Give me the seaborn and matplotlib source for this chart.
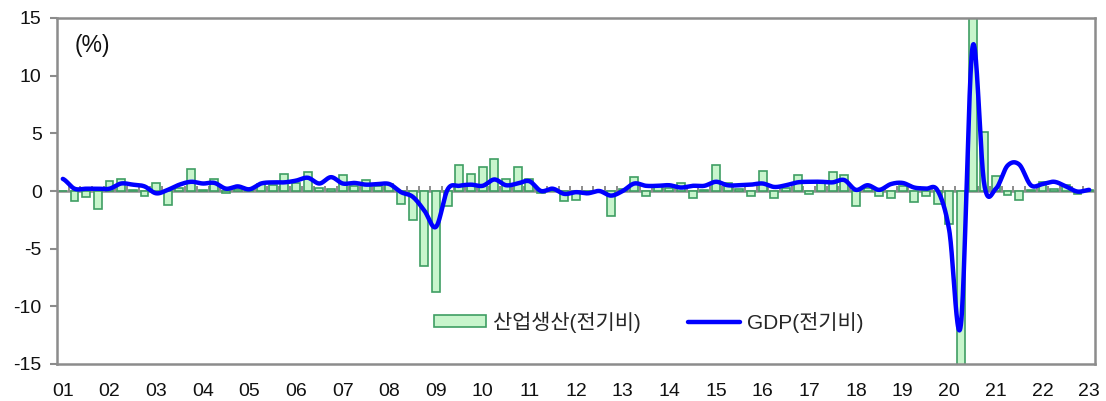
import numpy as np
import pandas as pd
import matplotlib
matplotlib.use("Agg")
import matplotlib.pyplot as plt
from matplotlib.patches import Patch
from matplotlib.lines import Line2D
import seaborn as sns

# ---- data (quarterly, 2001Q1 - 2023Q1, % q/q) ----
years = [f"{y:02d}" for y in range(1, 24)]
quarters = [f"{y}Q{q}" for y in range(2001, 2024) for q in range(1, 5)][:89]

ip_qoq = [0.0, -0.9, -0.55, -1.6, 0.85, 1.0, 0.1, -0.4, 0.7, -1.25,
          0.3, 1.9, 0.1, 1.0, -0.2, 0.2, 0.2, 0.65, 0.5, 1.5,
          0.7, 1.65, 0.25, 0.2, 1.35, 0.45, 0.95, 0.4, 0.65, -1.1,
          -2.5, -6.5, -8.8, -1.3, 2.25, 1.5, 2.1, 2.75, 1.0, 2.1,
          1.0, -0.2, 0.1, -0.9, -0.75, -0.05, 0.0, -2.15, 0.15, 1.2,
          -0.4, 0.5, 0.3, 0.7, -0.6, 0.05, 2.25, 0.7, 0.15, -0.4,
          1.7, -0.6, 0.3, 1.35, -0.25, 0.85, 1.65, 1.35, -1.3, 0.3,
          -0.4, -0.6, 0.45, -0.95, -0.4, -1.1, -2.9, -16.5, 15.5, 5.15,
          1.3, -0.35, -0.8, 0.1, 0.8, 0.15, 0.5, -0.25, 0.1]

gdp_qoq = [1.05, 0.2, 0.2, 0.2, 0.2, 0.65, 0.55, 0.4, -0.2, 0.1,
           0.55, 0.8, 0.65, 0.7, 0.2, 0.4, 0.15, 0.65, 0.75, 0.75,
           0.9, 1.15, 0.65, 1.2, 0.65, 0.7, 0.55, 0.6, 0.6, -0.1,
           -0.5, -1.7, -3.1, 0.15, 0.45, 0.55, 0.45, 1.0, 0.5, 0.65,
           0.85, 0.0, 0.2, -0.25, -0.1, -0.2, 0.0, -0.4, 0.0, 0.65,
           0.45, 0.45, 0.5, 0.3, 0.45, 0.45, 0.8, 0.5, 0.5, 0.55,
           0.65, 0.35, 0.5, 0.75, 0.8, 0.8, 0.75, 0.95, 0.1, 0.5,
           0.1, 0.6, 0.7, 0.3, 0.2, 0.05, -3.4, -11.6, 12.5, 0.6,
           0.2, 2.2, 2.3, 0.5, 0.6, 0.8, 0.4, -0.05, 0.1]

yticks = [-15, -10, -5, 0, 5, 10, 15]

label_ip = "산업생산(전기비)"
label_gdp = "GDP(전기비)"

# ---- style ----
sns.set_theme(style="white")
plt.rcParams["font.family"] = ["Liberation Sans", "Noto Sans CJK KR", "DejaVu Sans"]
plt.rcParams["axes.unicode_minus"] = False

BAR_FACE = "#c8f5cc"
BAR_EDGE = "#3f9e63"
LINE_COL = "#0000ff"
GRAY = "#8c8c8c"

fig = plt.figure(figsize=(11.06, 4.01), dpi=100)
ax = fig.add_axes([57 / 1106, 1 - 364 / 401, (1095 - 57) / 1106, (364 - 18) / 401])

n = len(quarters)
df = pd.DataFrame({"q": quarters, "idx": np.arange(n), "ip": ip_qoq, "gdp": gdp_qoq})

# zero line with quarter separators
ax.axhline(0, color=GRAY, lw=1.8, zorder=1)
bounds = np.arange(n + 1) - 0.5
ax.vlines(bounds[1:-1], 0, 0.42, color=GRAY, lw=1.4, zorder=1)

sns.barplot(data=df, x="idx", y="ip", order=list(range(n)), native_scale=True,
            color=BAR_FACE, edgecolor=BAR_EDGE, linewidth=1.2, width=0.68,
            saturation=1, ax=ax, zorder=2)
for p in ax.patches:
    p.set_facecolor(BAR_FACE)
    p.set_edgecolor(BAR_EDGE)


# smoothed (Excel-like) line through the GDP points
def smooth(xv, yv, k=24):
    xv = np.asarray(xv, float)
    yv = np.asarray(yv, float)
    N = len(yv)
    xs, ys = [], []
    t = np.linspace(0, 1, k, endpoint=False)
    for i in range(N - 1):
        y0 = yv[max(i - 1, 0)]
        y1, y2 = yv[i], yv[i + 1]
        y3 = yv[min(i + 2, N - 1)]
        c1 = y1 + (y2 - y0) / 6
        c2 = y2 - (y3 - y1) / 6
        b = (1 - t) ** 3 * y1 + 3 * (1 - t) ** 2 * t * c1 + 3 * (1 - t) * t ** 2 * c2 + t ** 3 * y2
        xs.append(xv[i] + t * (xv[i + 1] - xv[i]))
        ys.append(b)
    xs.append([xv[-1]])
    ys.append([yv[-1]])
    return np.concatenate(xs), np.concatenate(ys)


sx, sy = smooth(df["idx"], df["gdp"])
sns.lineplot(x=sx, y=sy, sort=False, estimator=None, color=LINE_COL, lw=3.2,
             ax=ax, zorder=3)

ax.set_xlim(-0.5, n - 0.5)
ax.set_ylim(-15, 15)
ax.set_yticks(yticks)
ax.set_yticklabels([str(v) for v in yticks])
ax.set_xticks(np.arange(0, n, 4))
ax.set_xticklabels(years)
ax.set_xlabel("")
ax.set_ylabel("")

for s in ax.spines.values():
    s.set_visible(True)
    s.set_color(GRAY)
    s.set_linewidth(1.8)

ax.tick_params(axis="y", which="major", direction="out", length=5, width=1.5,
               color=GRAY, labelsize=14, pad=6, labelcolor="#111111", left=True)
ax.tick_params(axis="x", which="major", length=0, labelsize=14, pad=14,
               labelcolor="#111111", bottom=True)

ax.text(0.017, 0.92, "(%)", transform=ax.transAxes, fontsize=16.5,
        color="#111111", va="center", ha="left")

handles = [Patch(facecolor=BAR_FACE, edgecolor=BAR_EDGE, linewidth=1.2),
           Line2D([0], [0], color=LINE_COL, lw=3.2)]
ax.legend(handles, [label_ip, label_gdp], ncol=2, frameon=False,
          loc="center", bbox_to_anchor=(0.570, 0.121), fontsize=15,
          handlelength=2.5, handleheight=0.5, handletextpad=0.3,
          columnspacing=2.3)

fig.savefig("out.png", dpi=100)
